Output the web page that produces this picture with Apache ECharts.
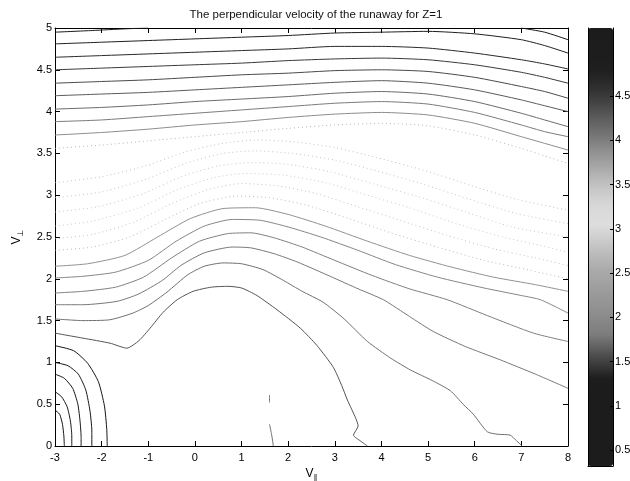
<!DOCTYPE html>
<html>
<head>
<meta charset="utf-8">
<script src="https://cdn.jsdelivr.net/npm/echarts@6/dist/echarts.min.js"></script>
<style>
html, body { margin: 0; padding: 0; background: #fff; }
#main { width: 630px; height: 481px; }
</style>
</head>
<body>
<div id="main"></div>
<script>
// contour lines, points are [v_par, v_perp]
const cornerLevels = [0.45, 0.65, 0.85, 1.0, 1.2]
const corner045 = [[-3, 0.43], [-2.9, 0.38], [-2.84, 0.26], [-2.81, 0.12], [-2.8, 0]]
const corner065 = [[-3, 0.65], [-2.86, 0.59], [-2.74, 0.47], [-2.67, 0.3], [-2.64, 0.12], [-2.64, 0]]
const corner085 = [[-3, 0.86], [-2.8, 0.81], [-2.62, 0.69], [-2.51, 0.5], [-2.46, 0.28], [-2.44, 0.1], [-2.44, 0]]
const corner100 = [[-3, 1.0], [-2.72, 0.96], [-2.5, 0.86], [-2.34, 0.67], [-2.25, 0.42], [-2.21, 0.18], [-2.21, 0]]
const corner120 = [[-3, 1.2], [-2.6, 1.14], [-2.3, 0.99], [-2.07, 0.77], [-1.94, 0.48], [-1.89, 0.2], [-1.88, 0]]

// the "hump" family (peak near v_par ~ 1)
const humpLevels = [1.7, 2.0, 2.2, 2.35, 2.5, 2.65, 2.8, 2.95, 3.05, 3.15, 3.25, 3.35]
const hump1 = [[-3, 1.35], [-2.4, 1.29], [-1.82, 1.23], [-1.46, 1.17], [-1.2, 1.26], [-0.96, 1.41], [-0.68, 1.6], [-0.38, 1.75], [-0.04, 1.85], [0.35, 1.9], [0.71, 1.91], [1.0, 1.89], [1.33, 1.8], [1.76, 1.63], [2.26, 1.41], [2.62, 1.2], [2.97, 0.94], [3.15, 0.72], [3.27, 0.55], [3.45, 0.33], [3.5, 0.24], [3.4, 0.13], [3.55, 0.06], [3.7, 0]]
const hump2 = [[-3, 1.52], [-2.4, 1.5], [-1.82, 1.51], [-1.33, 1.59], [-1.0, 1.68], [-0.6, 1.84], [-0.15, 2.05], [0.2, 2.15], [0.6, 2.19], [1.0, 2.18], [1.46, 2.11], [1.9, 1.98], [2.3, 1.85], [2.75, 1.72], [3.2, 1.52], [3.7, 1.25], [4.2, 1.05], [4.62, 0.91], [5.1, 0.78], [5.48, 0.66], [5.75, 0.5], [5.97, 0.38], [6.27, 0.17], [6.5, 0.14], [6.76, 0.13], [6.9, 0.06], [7.02, 0]]
const hump3 = [[-3, 1.69], [-2.4, 1.69], [-1.67, 1.73], [-1.2, 1.82], [-0.7, 1.98], [-0.3, 2.16], [0.2, 2.31], [0.8, 2.38], [1.2, 2.37], [1.7, 2.3], [2.2, 2.2], [2.9, 2.03], [3.5, 1.88], [4.04, 1.75], [4.6, 1.55], [5.11, 1.37], [5.8, 1.19], [6.55, 1.03], [7.3, 0.86], [8, 0.69]]
const hump4 = [[-3, 1.83], [-2.4, 1.85], [-1.7, 1.9], [-1.1, 2.02], [-0.5, 2.25], [0.1, 2.45], [0.7, 2.54], [1.2, 2.55], [1.7, 2.49], [2.3, 2.38], [3.0, 2.22], [3.8, 2.04], [4.6, 1.88], [5.41, 1.75], [6.27, 1.56], [7.26, 1.35], [8, 1.25]]
const hump5 = [[-3, 2.01], [-2.4, 2.03], [-1.7, 2.08], [-1.0, 2.22], [-0.4, 2.45], [0.2, 2.63], [0.8, 2.71], [1.4, 2.7], [2.0, 2.62], [2.7, 2.5], [3.5, 2.34], [4.3, 2.17], [5.2, 2.02], [6.2, 1.89], [7.0, 1.8], [7.41, 1.75], [8, 1.59]]
const hump6 = [[-3, 2.15], [-2.3, 2.18], [-1.5, 2.28], [-0.8, 2.5], [-0.1, 2.72], [0.6, 2.84], [1.3, 2.85], [2.0, 2.77], [2.8, 2.63], [3.7, 2.45], [4.6, 2.28], [5.5, 2.14], [6.4, 2.02], [7.3, 1.93], [8, 1.85]]
const hump7 = [[-3, 2.34], [-2.2, 2.38], [-1.4, 2.5], [-0.6, 2.72], [0.1, 2.9], [0.9, 2.99], [1.6, 2.97], [2.4, 2.88], [3.3, 2.72], [4.2, 2.55], [5.2, 2.38], [6.2, 2.22], [7.2, 2.1], [8, 2.0]]
const hump8 = [[-3, 2.48], [-2.2, 2.53], [-1.3, 2.68], [-0.5, 2.9], [0.3, 3.07], [1.0, 3.14], [1.8, 3.11], [2.6, 3.02], [3.5, 2.86], [4.4, 2.7], [5.4, 2.52], [6.4, 2.36], [7.3, 2.25], [8, 2.16]]
const hump9 = [[-3, 2.63], [-2.2, 2.69], [-1.2, 2.85], [-0.4, 3.06], [0.4, 3.21], [1.1, 3.26], [1.9, 3.24], [2.8, 3.15], [3.7, 3.0], [4.6, 2.85], [5.6, 2.66], [6.6, 2.5], [7.4, 2.4], [8, 2.32]]
const hump10 = [[-3, 2.8], [-2.1, 2.86], [-1.1, 3.02], [-0.3, 3.22], [0.5, 3.35], [1.2, 3.39], [2.0, 3.37], [2.9, 3.28], [3.8, 3.14], [4.8, 2.98], [5.8, 2.8], [6.8, 2.62], [8, 2.5]]
const hump11 = [[-3, 2.97], [-2, 3.04], [-1, 3.2], [-0.2, 3.38], [0.6, 3.5], [1.3, 3.53], [2.1, 3.5], [3.0, 3.42], [3.9, 3.29], [4.9, 3.13], [5.9, 2.95], [6.9, 2.78], [8, 2.66]]
const hump12 = [[-3, 3.15], [-2, 3.22], [-1, 3.36], [-0.2, 3.52], [0.6, 3.62], [1.3, 3.66], [2.1, 3.64], [3.0, 3.57], [3.9, 3.45], [4.9, 3.3], [5.9, 3.12], [6.9, 2.95], [8, 2.82]]

// small stray pieces near the bottom
const strayLevel = 2.0
const stray1 = [[1.6, 0.26], [1.64, 0.15], [1.67, 0.05], [1.68, 0]]
const stray2 = [[1.6, 0.61], [1.6, 0.52]]

// the upper family, sampled at these v_par values
const topX = [-3, -2, -1, 0, 1, 2, 3, 4, 5, 6, 7, 7.5, 8]
const topLevels = [4.7, 4.55, 4.4, 4.25, 4.1, 3.95, 3.8, 3.65, 3.5]
const top2 = [4.81, 4.83, 4.85, 4.87, 4.89, 4.91, 4.94, 4.95, 4.96, 4.93, 4.86, 4.79, 4.70]
const top3 = [4.65, 4.67, 4.69, 4.71, 4.73, 4.75, 4.78, 4.78, 4.76, 4.70, 4.62, 4.57, 4.51]
const top4 = [4.50, 4.52, 4.54, 4.56, 4.58, 4.61, 4.63, 4.64, 4.62, 4.56, 4.47, 4.41, 4.34]
const top5 = [4.34, 4.36, 4.38, 4.41, 4.44, 4.46, 4.49, 4.50, 4.48, 4.41, 4.30, 4.24, 4.16]
const top6 = [4.19, 4.21, 4.23, 4.26, 4.29, 4.32, 4.35, 4.37, 4.34, 4.26, 4.14, 4.07, 4.00]
const top7 = [4.03, 4.05, 4.08, 4.12, 4.15, 4.18, 4.22, 4.24, 4.21, 4.12, 3.98, 3.90, 3.82]
const top8 = [3.88, 3.90, 3.94, 3.98, 4.02, 4.06, 4.10, 4.12, 4.09, 3.99, 3.84, 3.76, 3.70]
const top9 = [3.72, 3.75, 3.79, 3.84, 3.88, 3.93, 3.97, 3.99, 3.96, 3.86, 3.70, 3.62, 3.54]
const top10 = [3.56, 3.60, 3.65, 3.70, 3.75, 3.80, 3.84, 3.86, 3.83, 3.72, 3.56, 3.47, 3.38]
// top contour leaves the frame in the middle
const top1Level = 4.85
const top1Left = [[-3, 4.95], [-2.2, 4.97], [-1.5, 4.99], [-1.0, 5.0]]
const top1Right = [[7.0, 5.0], [7.5, 4.95], [8, 4.86]]

const xTicks = { min: -3, max: 8, step: 1 }
const yTicks = { min: 0, max: 5, step: 0.5 }
const barMin = 0.32
const barMax = 5.27
const barLabels = [0.5, 1, 1.5, 2, 2.5, 3, 3.5, 4, 4.5]

// grey version of the colour map (value -> grey level)
const greyStops = [[0.3, 28], [1.3, 28], [1.55, 74], [1.8, 124], [2.05, 142], [2.3, 156], [2.55, 171], [2.8, 196], [3.05, 222], [3.3, 214], [3.55, 188], [3.8, 154], [4.05, 119], [4.3, 85], [4.55, 51], [4.8, 30], [5.3, 28]]

function greyAt (v) {
  if (v <= greyStops[0][0]) return greyStops[0][1]
  for (let i = 1; i < greyStops.length; i++) {
    const [v1, g1] = greyStops[i]
    const [v0, g0] = greyStops[i - 1]
    if (v <= v1) return g0 + (g1 - g0) * (v - v0) / (v1 - v0)
  }
  return greyStops[greyStops.length - 1][1]
}
function rgb (g) {
  const n = Math.round(g)
  return 'rgb(' + n + ',' + n + ',' + n + ')'
}

const lines = []
const cornerPaths = [corner045, corner065, corner085, corner100, corner120]
cornerPaths.forEach((p, i) => lines.push({ level: cornerLevels[i], path: p }))
const humpPaths = [hump1, hump2, hump3, hump4, hump5, hump6, hump7, hump8, hump9, hump10, hump11, hump12]
humpPaths.forEach((p, i) => lines.push({ level: humpLevels[i], path: p }))
lines.push({ level: strayLevel, path: stray1 })
lines.push({ level: strayLevel, path: stray2 })
const topRows = [top2, top3, top4, top5, top6, top7, top8, top9, top10]
topRows.forEach((row, i) => lines.push({ level: topLevels[i], path: topX.map((x, j) => [x, row[j]]) }))
lines.push({ level: top1Level, path: top1Left })
lines.push({ level: top1Level, path: top1Right })

const font = 'Liberation Sans'
const series = lines.map(l => {
  const g = greyAt(l.level)
  const light = g > 185
  return {
    type: 'line',
    xAxisIndex: 0,
    yAxisIndex: 0,
    data: l.path,
    showSymbol: false,
    symbol: 'none',
    smooth: 0.2,
    silent: true,
    lineStyle: {
      color: rgb(light ? g * 0.85 : g * 0.8),
      width: 1,
      type: light ? [1, 3] : 'solid',
      opacity: light ? 0.8 : 1
    }
  }
})
// empty series so the colour bar has something to map
series.push({ type: 'scatter', xAxisIndex: 2, yAxisIndex: 2, data: [] })

const barColors = []
for (let i = 0; i <= 60; i++) {
  barColors.push(rgb(greyAt(barMin + (barMax - barMin) * i / 60)))
}

const chart = echarts.init(document.getElementById('main'))
const boxAxis = {
  axisLine: { show: true, onZero: false, lineStyle: { color: '#000', width: 1 } },
  axisTick: { show: true, inside: true, length: 5, lineStyle: { color: '#000' } },
  splitLine: { show: false }
}
chart.setOption({
  animation: false,
  backgroundColor: '#fff',
  title: {
    text: 'The perpendicular velocity of the runaway for Z=1',
    left: 311,
    textAlign: 'center',
    top: 4,
    textStyle: { fontFamily: font, fontSize: 11.5, fontWeight: 'normal', color: '#111' }
  },
  grid: [
    { left: 55, right: 62, top: 28, bottom: 35, outerBoundsMode: 'none' },
    { left: 588, width: 25, top: 28, bottom: 15, outerBoundsMode: 'none' }
  ],
  xAxis: [
    Object.assign({
      gridIndex: 0, type: 'value', position: 'bottom',
      min: xTicks.min, max: xTicks.max, interval: xTicks.step,
      axisLabel: { color: '#000', fontFamily: font, fontSize: 11, margin: 6 },
      name: '{v|V}{s|∥}',
      nameLocation: 'middle',
      nameGap: 14,
      nameTextStyle: {
        rich: {
          v: { fontFamily: font, fontSize: 12, color: '#000' },
          s: { fontFamily: 'DejaVu Sans', fontSize: 8, color: '#000', padding: [8, 0, 0, 0] }
        }
      }
    }, boxAxis),
    Object.assign({
      gridIndex: 0, type: 'value', position: 'top',
      min: xTicks.min, max: xTicks.max, interval: xTicks.step,
      axisLabel: { show: false }
    }, boxAxis),
    {
      gridIndex: 1, type: 'value', min: 0, max: 1, position: 'bottom',
      axisLine: { show: true, lineStyle: { color: '#000' } },
      axisTick: { show: false }, axisLabel: { show: false }, splitLine: { show: false }, z: 10
    }
  ],
  yAxis: [
    Object.assign({
      gridIndex: 0, type: 'value', position: 'left',
      min: yTicks.min, max: yTicks.max, interval: yTicks.step,
      axisLabel: { color: '#000', fontFamily: font, fontSize: 11, margin: 3 },
      name: '{v|V}{s|⊥}',
      nameLocation: 'middle',
      nameGap: 30,
      nameRotate: 90,
      nameTextStyle: {
        rich: {
          v: { fontFamily: font, fontSize: 12, color: '#000' },
          s: { fontFamily: 'DejaVu Sans', fontSize: 8, color: '#000', padding: [8, 0, 0, 0] }
        }
      }
    }, boxAxis),
    Object.assign({
      gridIndex: 0, type: 'value', position: 'right',
      min: yTicks.min, max: yTicks.max, interval: yTicks.step,
      axisLabel: { show: false }
    }, boxAxis),
    {
      gridIndex: 1, type: 'value', position: 'right', min: barMin, max: barMax, z: 10,
      axisLine: { show: true, onZero: false, lineStyle: { color: '#000' } },
      axisTick: { show: true, inside: true, length: 3, customValues: barLabels, lineStyle: { color: '#000' } },
      axisLabel: { color: '#000', fontFamily: font, fontSize: 11, margin: 2, inside: false, customValues: barLabels },
      splitLine: { show: false }
    },
    {
      gridIndex: 1, type: 'value', position: 'left', min: barMin, max: barMax, z: 10,
      axisLine: { show: true, onZero: false, lineStyle: { color: '#000' } },
      axisTick: { show: false }, axisLabel: { show: false }, splitLine: { show: false }
    }
  ],
  visualMap: {
    type: 'continuous',
    seriesIndex: series.length - 1,
    min: barMin,
    max: barMax,
    left: 588,
    top: 28,
    itemWidth: 25,
    itemHeight: 438,
    padding: 0,
    calculable: false,
    hoverLink: false,
    text: null,
    inRange: { color: barColors }
  },
  series: series
})
</script>
</body>
</html>
